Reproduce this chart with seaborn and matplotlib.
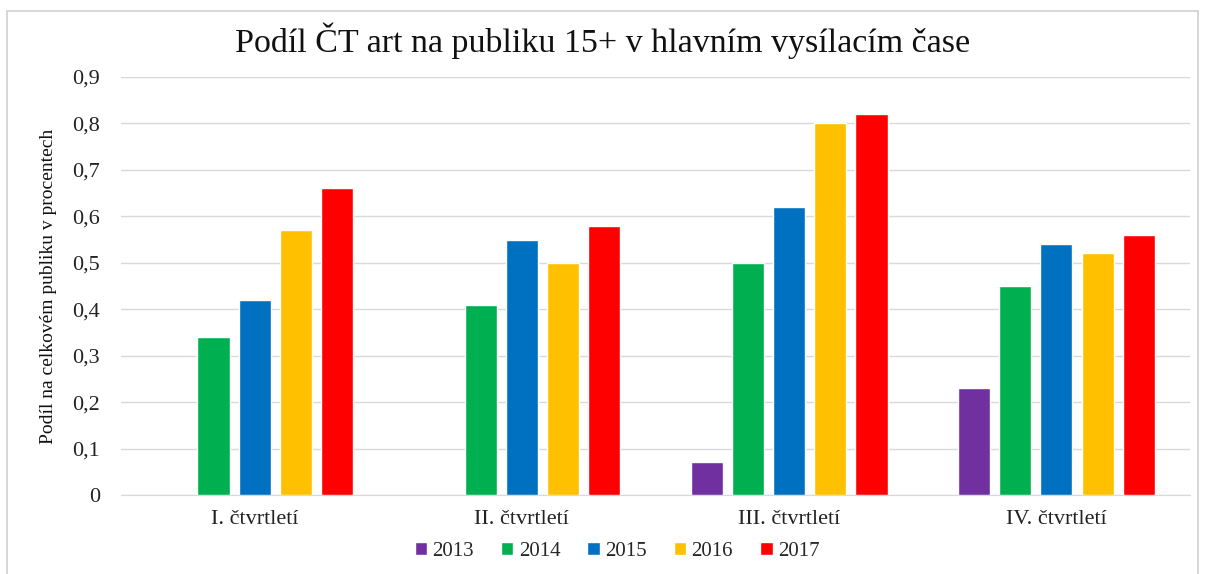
import numpy as np
import pandas as pd
import matplotlib
matplotlib.use('Agg')
import matplotlib.pyplot as plt
import seaborn as sns
from matplotlib.ticker import FuncFormatter, MultipleLocator
from matplotlib.patches import Rectangle

# Data
ctvrtleti = ['I. čtvrtletí', 'II. čtvrtletí', 'III. čtvrtletí', 'IV. čtvrtletí']
roky = ['2013', '2014', '2015', '2016', '2017']
podil_2013 = [np.nan, np.nan, 0.07, 0.23]
podil_2014 = [0.34, 0.41, 0.50, 0.45]
podil_2015 = [0.42, 0.55, 0.62, 0.54]
podil_2016 = [0.57, 0.50, 0.80, 0.52]
podil_2017 = [0.66, 0.58, 0.82, 0.56]
barvy = ['#7030A0', '#00B050', '#0070C0', '#FFC000', '#FF0000']

hodnoty = [podil_2013, podil_2014, podil_2015, podil_2016, podil_2017]
radky = []
for rok, serie in zip(roky, hodnoty):
    for q, v in zip(ctvrtleti, serie):
        radky.append({'ctvrtleti': q, 'rok': rok, 'podil': v})
df = pd.DataFrame(radky)

sns.set_style('white')
plt.rcParams['font.family'] = ['Liberation Serif', 'DejaVu Serif']

fig = plt.figure(figsize=(12.05, 5.74), dpi=100)
ax = fig.add_axes([0.1004, 0.1376, 0.8872, 0.7284])

sns.barplot(data=df, x='ctvrtleti', y='podil', hue='rok', order=ctvrtleti,
            hue_order=roky, palette=barvy, width=0.77, gap=0.22,
            saturation=1, errorbar=None, ax=ax, zorder=3)

ax.set_ylim(0, 0.9)
ax.yaxis.set_major_locator(MultipleLocator(0.1))
ax.yaxis.set_major_formatter(FuncFormatter(
    lambda v, p: '0' if abs(v) < 1e-9 else f'{v:.1f}'.replace('.', ',')))
ax.grid(axis='y', color='#d9d9d9', linewidth=1, zorder=0)
ax.set_axisbelow(True)
for s in ['top', 'right', 'left']:
    ax.spines[s].set_visible(False)
ax.spines['bottom'].set_color('#d9d9d9')
ax.tick_params(axis='both', length=0, labelsize=16, colors='#222222')
ax.tick_params(axis='y', pad=15)
ax.tick_params(axis='x', pad=11)
ax.set_xlabel('')
ax.set_ylabel('Podíl na celkovém publiku v procentech', fontsize=14,
              color='#111111', labelpad=11)

fig.suptitle('Podíl ČT art na publiku 15+ v hlavním vysílacím čase',
             fontsize=24.5, y=0.96, color='#111111')

leg = fig.legend(*ax.get_legend_handles_labels(), loc='center',
                 bbox_to_anchor=(0.512, 0.04), ncol=5,
                 frameon=False, fontsize=15, handlelength=0.6, handleheight=0.6,
                 handletextpad=0.25, columnspacing=1.3)
ax.get_legend().remove()

fig.patches.append(Rectangle((0.006, -0.02), 0.988, 1.0, transform=fig.transFigure,
                             fill=False, edgecolor='#d0d0d0', linewidth=1.2))

fig.savefig('out.png', dpi=100)
